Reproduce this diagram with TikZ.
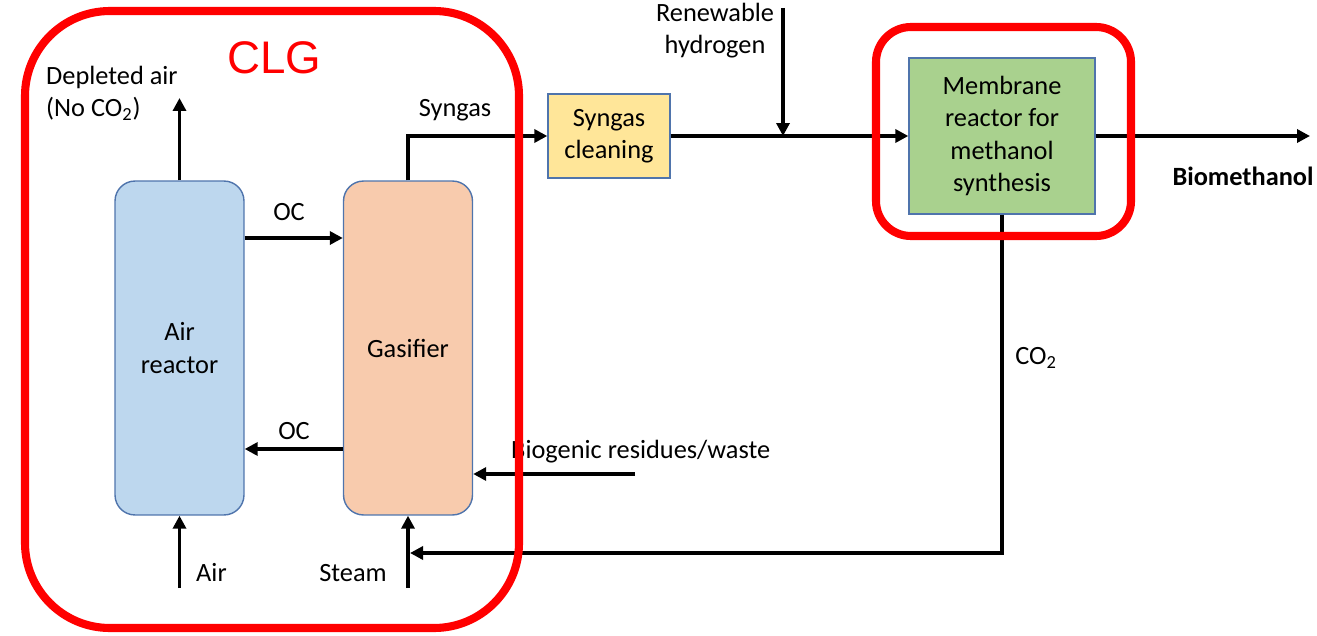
\documentclass[tikz,border=0pt]{standalone}
\usepackage{fontspec}
\setmainfont{Carlito}
\newfontfamily\clgfont{Liberation Sans}
\usepackage{tikz}
\usetikzlibrary{arrows.meta}

\definecolor{airfill}{HTML}{BDD7EE}
\definecolor{gasfill}{HTML}{F8CBAD}
\definecolor{cleanfill}{HTML}{FFE699}
\definecolor{memfill}{HTML}{A9D18E}
\definecolor{unitedge}{HTML}{4F74AC}

\begin{document}
\begin{tikzpicture}[x=0.02cm, y=-0.02cm, >={Triangle[length=0.26cm, width=0.26cm]},
    every node/.style={font=\fontsize{15}{18.3}\selectfont},
    flow/.style={->, line width=2.2pt},
    unit/.style={draw=unitedge, line width=0.8pt, align=center, inner sep=0pt},
    reactor/.style={unit, rounded corners=0.4cm, minimum width=2.58cm, minimum height=6.68cm},
    frame/.style={draw=red, line width=4.6pt}]
        \useasboundingbox (0,0) rectangle (1317,635);
        % Reactors and process units
        \node[reactor, fill=airfill] (airreac) at (179.5,348) {Air\\reactor};
        \node[reactor, fill=gasfill] (gasif) at (408,348) {Gasifier};
        \node[unit, fill=cleanfill, minimum width=2.44cm, minimum height=1.68cm] (cleaning) at (609,136) {Syngas\\cleaning};
        \node[unit, fill=memfill, minimum width=3.72cm, minimum height=3.12cm] (membrane) at (1002,136) {Membrane\\reactor for\\methanol\\synthesis};
        % Free ends of the streams
        \coordinate (depl) at (179.5,98);
        \coordinate (airin) at (179.5,588);
        \coordinate (steamin) at (408,588);
        \coordinate (co2end) at (410,553);
        \coordinate (bioin) at (635,474);
        \coordinate (h2in) at (783,8);
        \coordinate (product) at (1310,136);
        \coordinate (ocTop) at (0,238);
        \coordinate (ocBot) at (0,449);
        % Streams
        \draw[flow] (airreac.north) -- (depl);
        \draw[flow] (airin) -- (airreac.south);
        \draw[flow] (steamin) -- (gasif.south);
        \draw[flow] (airreac.east |- ocTop) -- (gasif.west |- ocTop);
        \draw[flow] (gasif.west |- ocBot) -- (airreac.east |- ocBot);
        \draw[flow] (gasif.north) |- (cleaning.west);
        \draw[flow] (cleaning.east) -- (membrane.west);
        \draw[flow] (h2in) -- (h2in |- cleaning.east);
        \draw[flow] (membrane.east) -- (product);
        \draw[flow] (bioin) -- (bioin -| gasif.east);
        \draw[flow] (membrane.south) |- (co2end);
        % Labels
        \node[anchor=west, align=left] (deplLbl) at (40,93) {Depleted air\\(No CO\textsubscript{2})};
        \node (syngasLbl) at (455,110) {Syngas};
        \node (ocTopLbl) at (289,212) {OC};
        \node (ocBotLbl) at (294,431) {OC};
        \node[anchor=west] (airLbl) at (190,572) {Air};
        \node (steamLbl) at (353,573) {Steam};
        \node[anchor=west] (bioLbl) at (505,452) {Biogenic residues/waste};
        \node (co2Lbl) at (1036,358) {CO\textsubscript{2}};
        \node[align=center] (h2Lbl) at (715,31) {Renewable\\hydrogen};
        \node[font=\fontsize{15}{18.3}\selectfont\bfseries] (prodLbl) at (1243,176) {Biomethanol};
        % Highlight frames
        \draw[frame, rounded corners=1.7cm] (25,11) rectangle (519,628);
        \draw[frame, rounded corners=0.7cm] (876,27) rectangle (1131,236);
        \node[text=red, font=\clgfont\fontsize{26}{30}\selectfont] (clgLbl) at (274,58) {CLG};
    \end{tikzpicture}
\end{document}
